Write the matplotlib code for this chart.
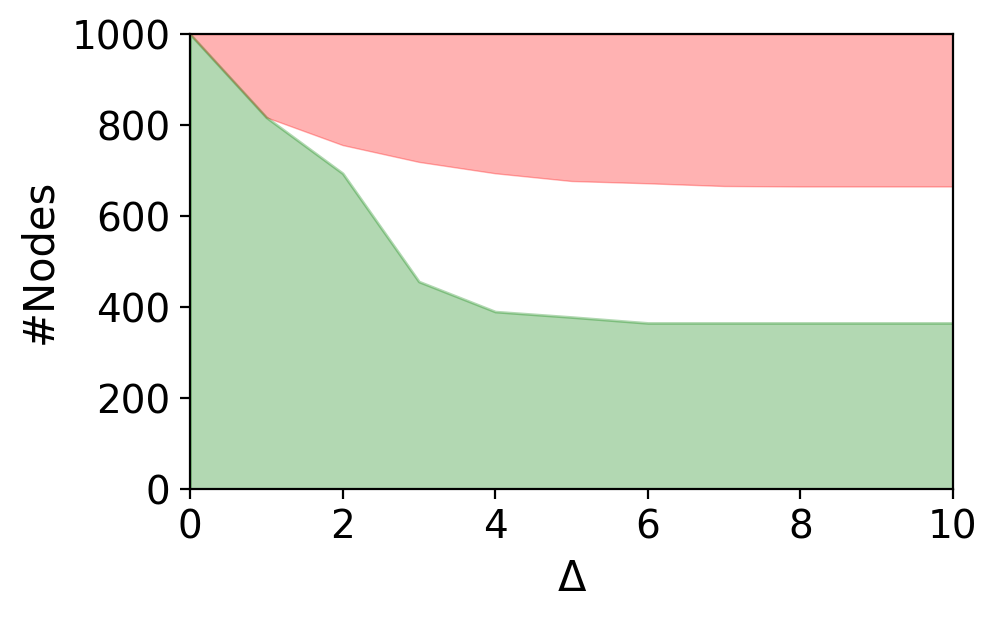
import matplotlib
matplotlib.use("Agg")
import matplotlib.pyplot as plt

delta = [0, 1, 2, 3, 4, 5, 6, 7, 8, 9, 10]
green_nodes = [1000, 817, 694, 456, 390, 378, 365, 365, 365, 365, 365]
red_nodes = [1000, 817, 756, 719, 694, 677, 672, 666, 665, 665, 665]
total = 1000

fig = plt.figure(figsize=(4.99, 3.095), dpi=200)
ax = fig.add_axes([0.1904, 0.21, 0.7645, 0.735])
ax.fill_between(delta, red_nodes, [total] * len(delta), color='red', alpha=0.3, linewidth=0.5)
ax.fill_between(delta, 0, green_nodes, color='green', alpha=0.3)
ax.set_xlim(0, 10)
ax.set_ylim(0, 1000)
ax.set_xticks([0, 2, 4, 6, 8, 10])
ax.set_yticks([0, 200, 400, 600, 800, 1000])
ax.tick_params(labelsize=14)
ax.set_xlabel('Δ', fontsize=15)
ax.set_ylabel('#Nodes', fontsize=15)
fig.savefig('out.png', dpi=200)
